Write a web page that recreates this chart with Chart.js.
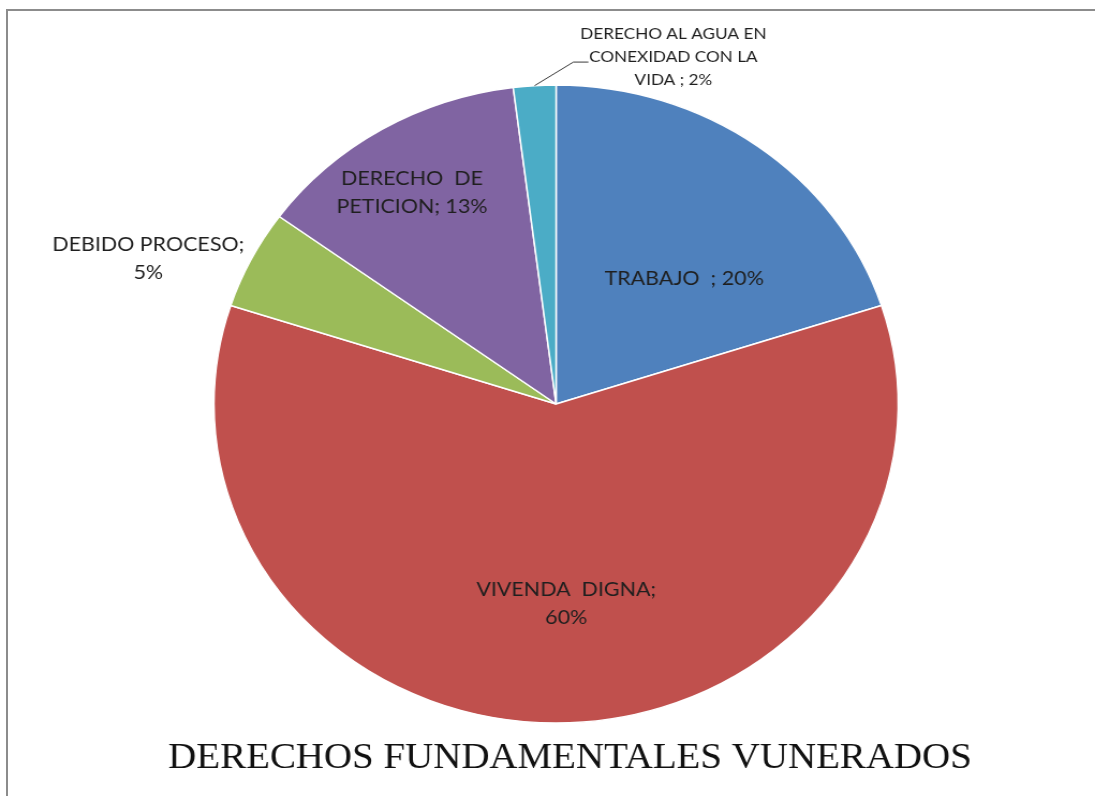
<!DOCTYPE html>
<html>
<head>
<meta charset="utf-8">
<script src="https://cdn.jsdelivr.net/npm/chart.js@4.4.1/dist/chart.umd.min.js"></script>
<style>
  html, body { margin: 0; padding: 0; background: #fff; overflow: hidden; }
  #marco { position: absolute; left: 6px; top: 9px; width: 1300px; height: 1000px; border: 2px solid #8c8c8c; box-sizing: border-box; }
  #derechos { position: absolute; left: 0; top: 0; }
</style>
</head>
<body>
<div id="marco"></div>
<!-- el grafico original esta un poco estirado a lo ancho -->
<canvas id="derechos" width="1021" height="796" style="width:1095px;height:796px"></canvas>
<script>
const categorias = ['TRABAJO', 'VIVENDA  DIGNA', 'DEBIDO PROCESO', 'DERECHO  DE PETICION', 'DERECHO AL AGUA EN CONEXIDAD CON LA VIDA'];
const porcentajes = [20, 60, 5, 13, 2];
const colores = ['#4F81BD', '#C0504D', '#9BBB59', '#8064A2', '#4BACC6'];
const titulo = 'DERECHOS FUNDAMENTALES VUNERADOS';

// como se parte cada etiqueta en lineas
const lineasEtiqueta = [
  v => ['TRABAJO  ; ' + v + '%'],
  v => ['VIVENDA  DIGNA;', v + '%'],
  v => ['DEBIDO PROCESO;', v + '%'],
  v => ['DERECHO  DE', 'PETICION; ' + v + '%'],
  v => ['DERECHO AL AGUA EN', 'CONEXIDAD CON LA', 'VIDA ; ' + v + '%']
];

// giro (grados) respecto al centro del sector y distancia en radios
const ubicacion = [
  { giro: 7.7, dist: 0.542, size: 20, alto: 27.5 },
  { giro: -2.7, dist: 0.626, size: 20, alto: 27.5 },
  { giro: -6.1, dist: 1.276, size: 20, alto: 27.5 },
  { giro: -1.8, dist: 0.786, size: 20, alto: 27.5 },
  { giro: 21.1, dist: 1.14, size: 16, alto: 23, guia: { giro: 6.3, dist: 1.073, tramo: 14 } }
];

const etiquetasPlugin = {
  id: 'etiquetas',
  afterDatasetsDraw(chart) {
    const ctx = chart.ctx;
    const arcs = chart.getDatasetMeta(0).data;
    ctx.save();
    ctx.textAlign = 'center';
    ctx.textBaseline = 'middle';
    arcs.forEach((arc, i) => {
      const u = ubicacion[i];
      const r = arc.outerRadius;
      const medio = (arc.startAngle + arc.endAngle) / 2;
      const ang = medio + u.giro * Math.PI / 180;
      const cx = arc.x + Math.cos(ang) * u.dist * r;
      const cy = arc.y + Math.sin(ang) * u.dist * r;
      const lineas = lineasEtiqueta[i](porcentajes[i]);
      ctx.font = u.size + 'px Lato';
      ctx.fillStyle = '#1f1f1f';
      lineas.forEach((l, k) => {
        ctx.fillText(l, cx, cy + (k - (lineas.length - 1) / 2) * u.alto);
      });
      // linea guia para la etiqueta de afuera
      if (u.guia) {
        const a2 = medio + u.guia.giro * Math.PI / 180;
        const ex = arc.x + Math.cos(a2) * u.guia.dist * r;
        const ey = arc.y + Math.sin(a2) * u.guia.dist * r;
        ctx.beginPath();
        ctx.moveTo(arc.x + Math.cos(medio) * r, arc.y + Math.sin(medio) * r);
        ctx.lineTo(ex, ey);
        ctx.lineTo(ex + u.guia.tramo, ey);
        ctx.strokeStyle = '#3a3a3a';
        ctx.lineWidth = 1;
        ctx.stroke();
      }
    });

    // titulo abajo, en serif
    ctx.fillStyle = '#111';
    ctx.textBaseline = 'alphabetic';
    ctx.font = '100px "Liberation Serif"';
    const ancho = ctx.measureText(titulo).width;
    const size = 100 * 750 / ancho;
    ctx.font = size.toFixed(1) + 'px "Liberation Serif"';
    ctx.fillText(titulo, 531.5, 768);
    ctx.restore();
  }
};

const ctx = document.getElementById('derechos').getContext('2d');
const grafico = new Chart(ctx, {
  type: 'pie',
  data: {
    labels: categorias,
    datasets: [{
      data: porcentajes,
      backgroundColor: colores,
      borderColor: '#ffffff',
      borderWidth: 1.5,
      radius: 319
    }]
  },
  options: {
    responsive: false,
    animation: false,
    layout: { padding: { top: 85, bottom: 73, left: 199, right: 183 } },
    plugins: {
      legend: { display: false },
      tooltip: { enabled: false }
    }
  },
  plugins: [etiquetasPlugin]
});
</script>
</body>
</html>
